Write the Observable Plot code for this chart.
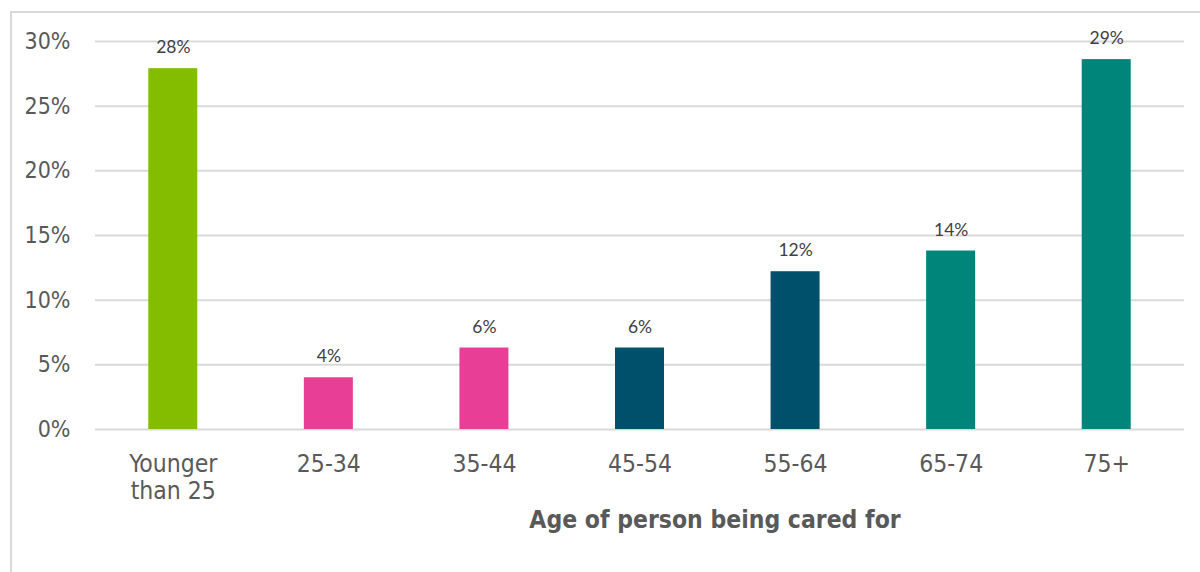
<!DOCTYPE html>
<html>
<head>
<meta charset="utf-8">
<script src="https://cdn.jsdelivr.net/npm/d3@7"></script>
<script src="https://cdn.jsdelivr.net/npm/@observablehq/plot@0.6"></script>
<style>
  html, body { margin: 0; padding: 0; background: #fff; overflow: hidden; }
  #wrap { position: relative; width: 1200px; height: 572px; }
  #border { position: absolute; left: 10px; top: 11px; width: 1200px; height: 600px; border: 2px solid #d9d9d9; box-sizing: border-box; }
  #chart { position: absolute; left: 0; top: 0; }
</style>
</head>
<body>
<div id="wrap"><div id="border"></div><div id="chart"></div></div>
<script>
const categories = ["Younger than 25", "25-34", "35-44", "45-54", "55-64", "65-74", "75+"];
const tickLabels = ["Younger\nthan 25", "25-34", "35-44", "45-54", "55-64", "65-74", "75+"];
const values = [27.9, 4.0, 6.3, 6.3, 12.2, 13.8, 28.6];
const labels = ["28%", "4%", "6%", "6%", "12%", "14%", "29%"];
const colors = ["#84bd00", "#e83e96", "#e83e96", "#00506b", "#00506b", "#00857a", "#00857a"];
const yTicks = [0, 5, 10, 15, 20, 25, 30];
const xTitle = "Age of person being cared for";

const data = categories.map((c, i) => ({cat: c, value: values[i], label: labels[i], color: colors[i]}));
const tickMap = new Map(categories.map((c, i) => [c, tickLabels[i]]));
const tickFont = "'DejaVu Sans Condensed', 'DejaVu Sans', sans-serif";

const chart = Plot.plot({
  width: 1200,
  height: 572,
  marginLeft: 95,
  marginRight: 16,
  marginTop: 41,
  marginBottom: 143,
  style: {background: "transparent", overflow: "visible"},
  x: {domain: categories, paddingInner: 0.685, paddingOuter: 0.3425, round: false, label: null},
  y: {domain: [0, 30], label: null},
  marks: [
    Plot.gridY(yTicks, {stroke: "#d9d9d9", strokeOpacity: 1, strokeWidth: 2}),
    Plot.barY(data, {x: "cat", y: "value", fill: "color"}),
    Plot.text(data, {x: "cat", y: "value", text: "label", dy: -21, fill: "#404040", fontSize: 17.5, fontFamily: "Lato, sans-serif"}),
    Plot.axisY(yTicks, {tickSize: 0, tickPadding: 25, tickFormat: d => d + "%", fontSize: 23, fill: "#595959", fontFamily: tickFont, label: null}),
    Plot.axisX({tickSize: 0, tickPadding: 24, tickFormat: d => tickMap.get(d), fontSize: 24.5, fill: "#595959", fontFamily: tickFont, label: null, lineHeight: 1.08}),
    Plot.text([xTitle], {frameAnchor: "bottom", dx: 75, dy: 98, fontSize: 24.5, fontWeight: "bold", fill: "#595959", fontFamily: tickFont})
  ]
});
document.getElementById("chart").appendChild(chart);
</script>
</body>
</html>
